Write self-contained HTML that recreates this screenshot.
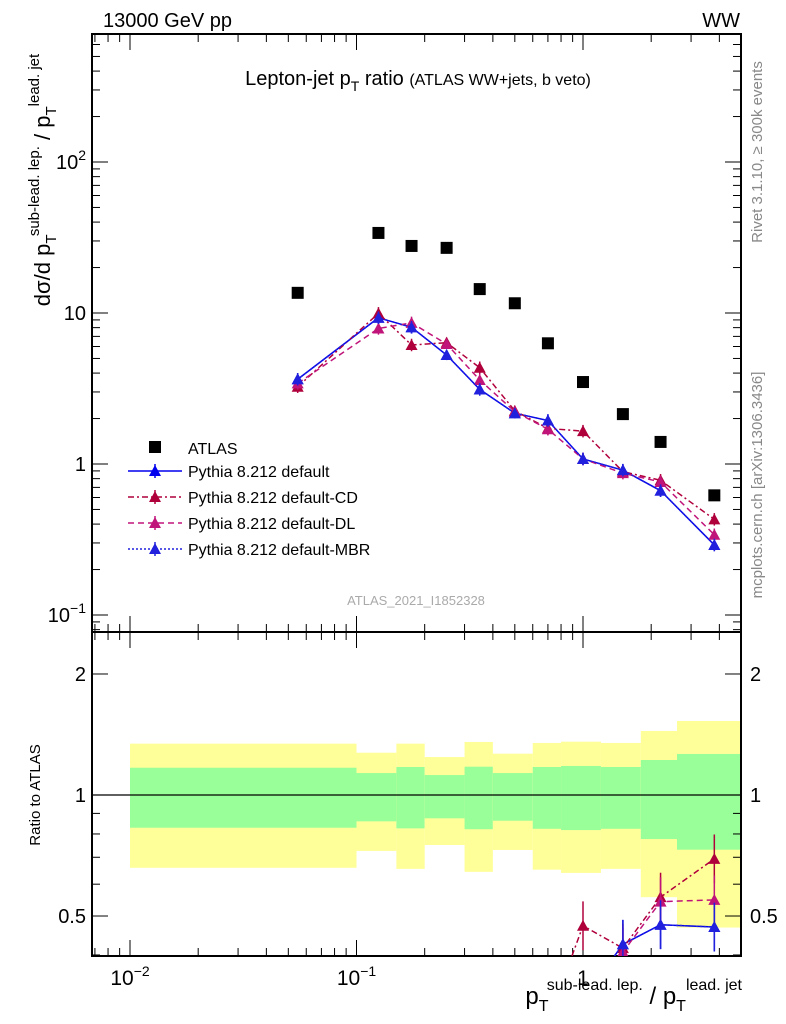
<!DOCTYPE html>
<html><head><meta charset="utf-8"><style>
html,body{margin:0;background:#fff;overflow:hidden;width:786px;height:1024px}
svg{font-family:"Liberation Sans",sans-serif;display:block}
</style></head><body>
<svg id="c" width="786" height="1024" viewBox="0 0 786 1024" xmlns="http://www.w3.org/2000/svg">
<text x="103" y="27" font-size="20">13000 GeV pp</text>
<text x="740" y="27" font-size="20" text-anchor="end">WW</text>
<text x="418" y="85" font-size="20" text-anchor="middle">Lepton-jet p<tspan font-size="14" dy="6">T</tspan><tspan dy="-6"> ratio </tspan><tspan font-size="16">(ATLAS WW+jets, b veto)</tspan></text>
<text transform="translate(762,152) rotate(-90)" font-size="15" fill="#888" text-anchor="middle">Rivet 3.1.10, ≥ 300k events</text>
<text transform="translate(762,485) rotate(-90)" font-size="15" fill="#888" text-anchor="middle">mcplots.cern.ch [arXiv:1306.3436]</text>
<text x="416" y="605" font-size="13" fill="#aaa" text-anchor="middle">ATLAS_2021_I1852328</text>
<text transform="translate(50,180) rotate(-90)" font-size="22" text-anchor="middle">dσ/d p<tspan font-size="15" dy="6">T</tspan><tspan font-size="15" dy="-17">sub-lead. lep.</tspan><tspan dy="11"> / p</tspan><tspan font-size="15" dy="6">T</tspan><tspan font-size="15" dy="-17">lead. jet</tspan></text>
<text transform="translate(40,795) rotate(-90)" font-size="15" text-anchor="middle">Ratio to ATLAS</text>
<text x="742" y="1004" font-size="24" text-anchor="end">p<tspan font-size="16" dy="7">T</tspan><tspan font-size="16" dy="-21">sub-lead. lep.</tspan><tspan dy="14"> / p</tspan><tspan font-size="16" dy="7">T</tspan><tspan font-size="16" dy="-21">lead. jet</tspan></text>
</svg>
<script>
const edges=[0.01,0.1,0.15,0.2,0.3,0.4,0.6,0.8,1.2,1.8,2.6,5];
const xs=[0.055,0.125,0.175,0.25,0.35,0.5,0.7,1.0,1.5,2.2,3.8];
const atlas=[13.6,33.9,27.8,27.0,14.4,11.6,6.3,3.49,2.14,1.40,0.62];
const pDefault=[3.64,9.3,8.04,5.27,3.12,2.17,1.94,1.08,0.91,0.666,0.291];
const pCD=[3.25,9.95,6.14,6.36,4.34,2.25,1.72,1.65,0.89,0.78,0.43];
const pDL=[3.42,7.9,8.6,6.23,3.6,2.22,1.70,1.08,0.87,0.76,0.34];
const pMBR=[3.64,9.3,8.04,5.27,3.12,2.17,1.94,1.08,0.91,0.666,0.291];
const errRel=[0.1,0.1,0.1,0.08,0.1,0.08,0.1,0.1,0.1,0.1,0.1];
const yelHi=[1.342,1.274,1.342,1.243,1.355,1.267,1.347,1.357,1.347,1.443,1.528];
const grnHi=[1.169,1.134,1.174,1.121,1.176,1.134,1.174,1.181,1.174,1.222,1.265];
const grnLo=[0.829,0.860,0.826,0.875,0.822,0.863,0.824,0.818,0.824,0.777,0.731];
const yelLo=[0.659,0.726,0.655,0.751,0.644,0.730,0.652,0.640,0.655,0.557,0.468];
const mainTicks=[[0.1,"10^-1"],[1,"1"],[10,"10"],[100,"10^2"]];
const ratioTicks=[[0.5,"0.5"],[1,"1"],[2,"2"]];
const xTicks=[[0.01,"10^-2"],[0.1,"10^-1"],[1,"1"]];

const NS="http://www.w3.org/2000/svg",svg=document.getElementById('c');
const L=92,R=741,T=34,M=632,B=956;
const X=v=>130+226.5*(Math.log10(v)+2);
const Y=v=>464-151*Math.log10(v);
const YR=v=>795-402*Math.log10(v);
function mk(t,a,p){const e=document.createElementNS(NS,t);for(const k in a)e.setAttribute(k,a[k]);(p||svg).appendChild(e);return e;}
for(let i=0;i<xs.length;i++){
 const x0=X(edges[i]),x1=Math.min(X(edges[i+1]),R);
 let e=mk('rect',{x:x0,y:YR(yelHi[i]),width:x1-x0,height:YR(yelLo[i])-YR(yelHi[i]),fill:'#ffff99'});
 
 
 e=mk('rect',{x:x0,y:YR(grnHi[i]),width:x1-x0,height:YR(grnLo[i])-YR(grnHi[i]),fill:'#99ff99'});
 
 
}
mk('line',{x1:L,x2:R,y1:YR(1),y2:YR(1),stroke:'#000','stroke-width':1.2});
mk('rect',{x:L,y:T,width:R-L,height:M-T,fill:'none',stroke:'#000','stroke-width':2});
mk('rect',{x:L,y:M,width:R-L,height:B-M,fill:'none',stroke:'#000','stroke-width':2});
function lbl(x,y,s,anchor,size){
 const t=mk('text',{x:x,y:y,'font-size':size||20,'text-anchor':anchor});
 const p=s.split('^');t.appendChild(document.createTextNode(p[0]));
 if(p[1]){const ts=mk('tspan',{dy:-9,'font-size':14},t);ts.textContent=p[1].replace('-','−');}
 return t;}
for(let d=-3;d<1;d++)for(let m=1;m<10;m++){const v=m*Math.pow(10,d),x=X(v);if(x<L||x>R)continue;const len=m==1?16:8;
 for(const [a,b] of [[M,M-len],[T,T+len],[B,B-len],[M,M+len]])mk('line',{x1:x,x2:x,y1:a,y2:b,stroke:'#000'});}
xTicks.forEach(t=>{const e=lbl(X(t[0]),985,t[1],'middle',21);});
for(let d=-2;d<3;d++)for(let m=1;m<10;m++){const v=m*Math.pow(10,d),y=Y(v);if(y<T||y>M)continue;const len=m==1?16:8;
 mk('line',{x1:L,x2:L+len,y1:y,y2:y,stroke:'#000'});mk('line',{x1:R,x2:R-len,y1:y,y2:y,stroke:'#000'});}
mainTicks.forEach(t=>{const e=lbl(86,Y(t[0])+7,t[1],'end',20);});
[0.4,0.5,0.6,0.7,0.8,0.9,1,2].forEach(v=>{const y=YR(v);const len=(v==0.5||v==1||v==2)?16:8;
 mk('line',{x1:L,x2:L+len,y1:y,y2:y,stroke:'#000'});mk('line',{x1:R,x2:R-len,y1:y,y2:y,stroke:'#000'});});
ratioTicks.forEach(t=>{let e=lbl(86,YR(t[0])+7,t[1],'end',20);
 e=lbl(750,YR(t[0])+7,t[1],'start',20);});
const cp=mk('clipPath',{id:'cm'});mk('rect',{x:L,y:T,width:R-L,height:M-T},cp);
const cr=mk('clipPath',{id:'cr'});mk('rect',{x:L,y:M,width:R-L,height:B-M},cr);
atlas.forEach((v,i)=>{const e=mk('rect',{x:X(xs[i])-6,y:Y(v)-6,width:12,height:12,fill:'#000'});
 
 });
const series=[[pDefault,'#0000ee','','default'],[pCD,'#b0003c','6,3,2,3','cd'],[pDL,'#c0147a','6,4','dl'],[pMBR,'#2020dd','2,2','mbr']];
function tri(x,y,c,g){mk('path',{d:`M${x-6},${y+5}L${x+6},${y+5}L${x},${y-6}Z`,fill:c},g);}
series.forEach(s=>{
 const g=mk('g',{'clip-path':'url(#cm)'});
 
 
 mk('polyline',{points:s[0].map((v,i)=>X(xs[i])+','+Y(v)).join(' '),fill:'none',stroke:s[1],'stroke-width':1.5,'stroke-dasharray':s[2]},g);
 s[0].forEach((v,i)=>{const x=X(xs[i]);mk('line',{x1:x,x2:x,y1:Y(v*(1+errRel[i])),y2:Y(v/(1+errRel[i])),stroke:s[1],'stroke-width':1.5},g);tri(x,Y(v),s[1],g);});
 const gr=mk('g',{'clip-path':'url(#cr)'});
 
 
 const r=s[0].map((v,i)=>v/atlas[i]);
 mk('polyline',{points:r.map((v,i)=>X(xs[i])+','+YR(v)).join(' '),fill:'none',stroke:s[1],'stroke-width':1.5,'stroke-dasharray':s[2]},gr);
 r.forEach((v,i)=>{const x=X(xs[i]);mk('line',{x1:x,x2:x,y1:YR(v*(1+errRel[i]*1.5)),y2:YR(v/(1+errRel[i]*1.5)),stroke:s[1],'stroke-width':1.5},gr);tri(x,YR(v),s[1],gr);});
});
const leg=mk('g',{});


mk('rect',{x:149,y:441,width:12,height:12,fill:'#000'},leg);
let t=mk('text',{x:188,y:454,'font-size':16},leg);t.textContent='ATLAS';
const names=['Pythia 8.212 default','Pythia 8.212 default-CD','Pythia 8.212 default-DL','Pythia 8.212 default-MBR'];
series.forEach((s,i)=>{const y=471+i*26;
 const e=mk('g',{},leg);
 
 
 mk('line',{x1:128,x2:182,y1:y,y2:y,stroke:s[1],'stroke-width':1.5,'stroke-dasharray':s[2]},e);
 mk('line',{x1:155,x2:155,y1:y-7,y2:y+7,stroke:s[1],'stroke-width':1.5},e);tri(155,y,s[1],e);
 const tt=mk('text',{x:188,y:y+6,'font-size':16},e);tt.textContent=names[i];});
</script>
</body></html>
